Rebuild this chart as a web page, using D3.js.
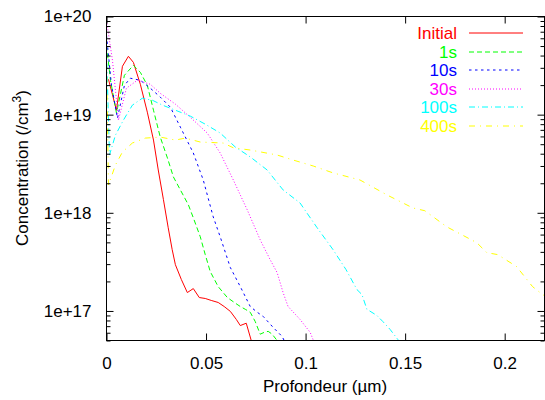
<!DOCTYPE html>
<html>
<head>
<meta charset="utf-8">
<script src="https://cdn.jsdelivr.net/npm/d3@7"></script>
<style>
  body { margin: 0; background: #fff; }
  text { font-family: "Liberation Sans", Arial, sans-serif; }
</style>
</head>
<body>
<script>
// depth in um, concentration in /cm3
const initialX = [0.001,0.005,0.008,0.011,0.0135,0.017,0.0205,0.0236,0.026,0.0286,0.031,0.033,0.0346,0.0376,0.0406,0.0436,0.0466,0.0496,0.0526,0.0561,0.0591,0.0622,0.0652,0.0672,0.0702,0.0727,0.0737];
const initialY = [2.29e19,1.11e19,3.11e19,3.93e19,3.41e19,2.04e19,1.06e19,5.51e18,2.73e18,1.36e18,7.04e17,4.21e17,2.96e17,2.09e17,1.54e17,1.69e17,1.37e17,1.34e17,1.28e17,1.22e17,1.11e17,9.9e16,8.2e16,7.1e16,7.5e16,5.0e16,4.5e16];

const s1X = [0,0.002,0.005,0.009,0.0135,0.017,0.0205,0.0236,0.027,0.0306,0.0336,0.0371,0.0411,0.0436,0.0471,0.0496,0.0521,0.0561,0.0607,0.0642,0.0672,0.0697,0.0722,0.0747,0.0772,0.0792,0.0812,0.0832,0.0857,0.0867];
const s1Y = [5.08e19,2.24e19,1.04e19,2.52e19,3.18e19,2.70e19,1.99e19,1.11e19,5.91e18,3.62e18,2.32e18,1.71e18,1.21e18,8.9e17,5.7e17,3.75e17,2.52e17,1.77e17,1.37e17,1.22e17,1.11e17,1.04e17,9.7e16,7.8e16,5.8e16,6.05e16,6.2e16,5.8e16,5.0e16,4.6e16];

const s10X = [0,0.0025,0.0055,0.009,0.012,0.017,0.022,0.027,0.0321,0.0371,0.0436,0.0486,0.0536,0.0571,0.0622,0.0672,0.0722,0.0757,0.0787,0.0837,0.0882,0.0897];
const s10Y = [6.41e19,1.99e19,9.2e18,1.99e19,2.35e19,2.24e19,1.86e19,1.51e19,1.19e19,7.46e18,4.07e18,2.16e18,9.1e17,5.7e17,2.77e17,1.77e17,1.11e17,9.7e16,8.8e16,6.8e16,5.5e16,4.8e16];

const s30X = [0,0.003,0.006,0.010,0.0155,0.022,0.027,0.0346,0.0421,0.0506,0.0571,0.0637,0.0707,0.0772,0.0822,0.0857,0.0887,0.0912,0.0972,0.1023,0.1043];
const s30Y = [9.1e19,3.57e19,8.8e18,1.86e19,2.24e19,2.04e19,1.65e19,1.28e19,9.4e18,6.5e18,4.07e18,2.16e18,1.07e18,5.3e17,3.33e17,2.46e17,1.54e17,1.11e17,8.2e16,6.05e16,4.8e16];

const s100X = [0,0.0015,0.0045,0.0085,0.013,0.018,0.0231,0.0281,0.0346,0.0421,0.0496,0.0571,0.0647,0.0722,0.0807,0.0887,0.0972,0.1058,0.1138,0.1203,0.1258,0.1283,0.1308,0.1358,0.1388,0.1424,0.1464,0.1474];
const s100Y = [4.52e19,3.88e18,6.19e18,8.8e18,1.25e19,1.47e19,1.40e19,1.25e19,1.11e19,9.66e18,8.0e18,6.5e18,4.68e18,3.71e18,2.73e18,1.71e18,1.26e18,7.04e17,4.21e17,2.64e17,1.65e17,1.47e17,1.04e17,9.0e16,7.8e16,6.5e16,5.1e16,4.7e16];

const s400X = [0,0.001,0.0045,0.008,0.013,0.0195,0.027,0.0346,0.0396,0.0471,0.0586,0.0637,0.0722,0.0857,0.0937,0.1038,0.1138,0.1273,0.1409,0.1539,0.1599,0.1709,0.1860,0.1910,0.1965,0.2060,0.2140,0.2190,0.2216];
const s400Y = [3.57e19,1.92e18,3.07e18,4.16e18,5.14e18,5.77e18,5.91e18,5.51e18,5.77e18,5.26e18,5.14e18,4.6e18,4.36e18,3.88e18,3.45e18,3.0e18,2.55e18,2.16e18,1.52e18,1.12e18,1.05e18,7.2e17,4.96e17,3.93e17,3.75e17,2.83e17,1.77e17,1.47e17,1.37e17];

const seriesNames = ["Initial", "1s", "10s", "30s", "100s", "400s"];
const seriesColors = ["#ff0000", "#00ff00", "#0000ff", "#ff00ff", "#00ffff", "#ffff00"];
const seriesDash = [null, "5,3", "2.5,3.5", "1,2", "6,3,1,3", "6,5,1,5"];
const seriesXs = [initialX, s1X, s10X, s30X, s100X, s400X];
const seriesYs = [initialY, s1Y, s10Y, s30Y, s100Y, s400Y];

const xTicks = [0, 0.05, 0.1, 0.15, 0.2];
const yTicks = [1e17, 1e18, 1e19, 1e20];

const W = 545, H = 400;
const mLeft = 106.5, mRight = 544.5, mTop = 16.5, mBottom = 340.5;

const svg = d3.select("body").append("svg")
  .attr("width", W)
  .attr("height", H);

const x = d3.scaleLinear().domain([0, 0.22]).range([mLeft, mRight]);
const y = d3.scaleLog().domain([5e16, 1e20]).range([mBottom, mTop]);

// minor ticks 2..9 per decade
var yMinor = [];
for (let e = 16; e < 20; e++) {
  for (let m = 2; m <= 9; m++) {
    var v = m * Math.pow(10, e);
    if (v >= 5e16 && v <= 1e20) yMinor.push(v);
  }
}

svg.append("clipPath").attr("id", "clip")
  .append("rect")
  .attr("x", mLeft).attr("y", mTop)
  .attr("width", mRight - mLeft).attr("height", mBottom - mTop);

// lines
const line = d3.line()
  .x(d => x(d[0]))
  .y(d => y(d[1]));

const plot = svg.append("g").attr("clip-path", "url(#clip)");
seriesNames.forEach((name, i) => {
  var pts = seriesXs[i].map((v, j) => [v, seriesYs[i][j]]);
  plot.append("path")
    .datum(pts)
    .attr("fill", "none")
    .attr("stroke", seriesColors[i])
    .attr("stroke-width", 1)
    .attr("stroke-dasharray", seriesDash[i])
    .attr("d", line);
});

// axes (ticks pointing inward, mirrored)
function styleAxis(g) {
  g.select(".domain").remove();
  g.selectAll("line").attr("stroke", "#000");
}

svg.append("g")
  .attr("transform", `translate(0,${mBottom})`)
  .call(d3.axisBottom(x).tickValues(xTicks).tickSize(-7).tickPadding(16)
    .tickFormat(d => d === 0 ? "0" : d3.format("")(d)))
  .call(styleAxis)
  .selectAll("text").attr("font-size", 17).attr("fill", "#000");

svg.append("g")
  .attr("transform", `translate(0,${mTop})`)
  .call(d3.axisTop(x).tickValues(xTicks).tickSize(-7).tickFormat(""))
  .call(styleAxis);

svg.append("g")
  .attr("transform", `translate(${mLeft},0)`)
  .call(d3.axisLeft(y).tickValues(yTicks).tickSize(-7).tickPadding(15)
    .tickFormat(d => "1e+" + Math.round(Math.log10(d))))
  .call(styleAxis)
  .selectAll("text").attr("font-size", 17).attr("fill", "#000");

svg.append("g")
  .attr("transform", `translate(${mLeft},0)`)
  .call(d3.axisLeft(y).tickValues(yMinor).tickSize(-4).tickFormat(""))
  .call(styleAxis);

svg.append("g")
  .attr("transform", `translate(${mRight},0)`)
  .call(d3.axisRight(y).tickValues(yTicks).tickSize(-7).tickFormat(""))
  .call(styleAxis);

svg.append("g")
  .attr("transform", `translate(${mRight},0)`)
  .call(d3.axisRight(y).tickValues(yMinor).tickSize(-4).tickFormat(""))
  .call(styleAxis);

// border
svg.append("rect")
  .attr("x", mLeft).attr("y", mTop)
  .attr("width", mRight - mLeft).attr("height", mBottom - mTop)
  .attr("fill", "none")
  .attr("stroke", "#000")
  .attr("stroke-width", 1);

// axis titles
svg.append("text")
  .attr("x", 325)
  .attr("y", 392)
  .attr("text-anchor", "middle")
  .attr("font-size", 17)
  .text("Profondeur (\u00b5m)");

const yt = svg.append("text")
  .attr("transform", "translate(28,168) rotate(-90)")
  .attr("text-anchor", "middle")
  .attr("font-size", 17);
yt.append("tspan").text("Concentration (/cm");
yt.append("tspan").attr("baseline-shift", "super").attr("font-size", 12).text("3");
yt.append("tspan").text(")");

// legend
const leg = svg.append("g");
seriesNames.forEach((name, i) => {
  var ly = Math.round(33 + i * 18.6);
  leg.append("text")
    .attr("x", 457)
    .attr("y", ly + 6)
    .attr("text-anchor", "end")
    .attr("font-size", 17)
    .attr("fill", seriesColors[i])
    .text(name);
  leg.append("line")
    .attr("x1", 469).attr("x2", 523)
    .attr("y1", ly).attr("y2", ly)
    .attr("stroke", seriesColors[i])
    .attr("stroke-width", 1)
    .attr("stroke-dasharray", seriesDash[i]);
});
</script>
</body>
</html>
